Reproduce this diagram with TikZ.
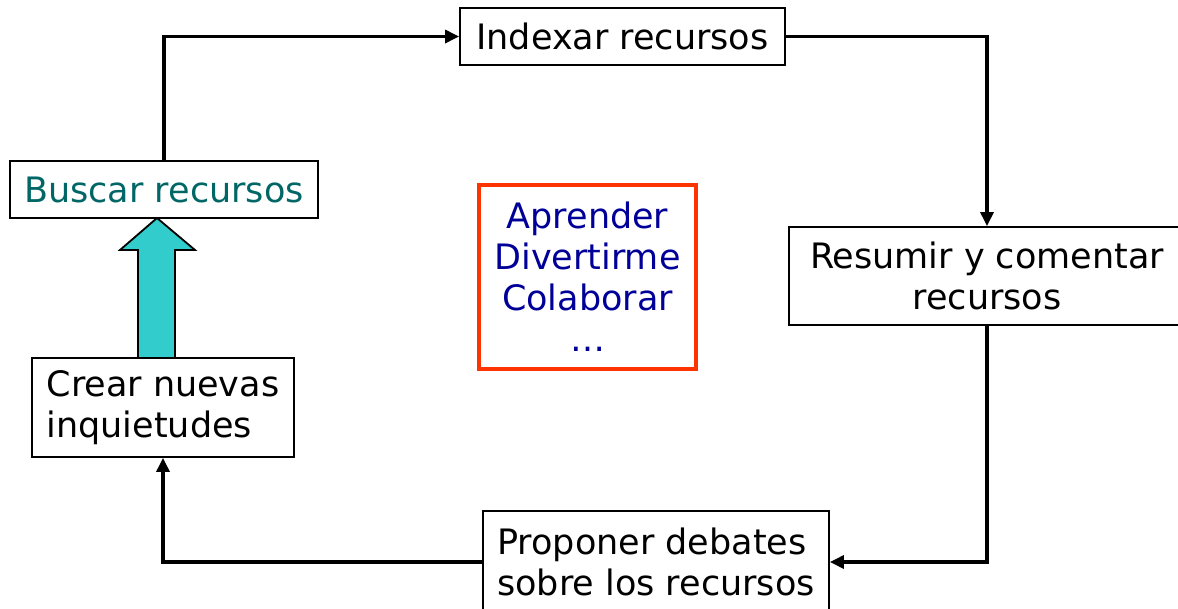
\documentclass[tikz,border=0pt]{standalone}
\usepackage{fontspec}
\setmainfont{DejaVu Sans}
\usetikzlibrary{arrows.meta,positioning}
\definecolor{tealtxt}{RGB}{0,102,102}
\definecolor{navytxt}{RGB}{0,0,153}
\definecolor{redframe}{RGB}{255,51,0}
\definecolor{fatcyan}{RGB}{51,204,204}
\begin{document}
\begin{tikzpicture}[
    x=1pt, y=-1pt,
    every node/.style={font=\fontsize{35}{41}\selectfont},
    box/.style={
      draw,
      line width=1.8pt,
      fill=white,
      inner sep=0pt
    },
    arrow/.style={-{Triangle[length=14pt,width=13pt]}, line width=3.2pt}
  ]
    \useasboundingbox (0,0) rectangle (1178,608);

    % fat arrow
    \draw[fill=fatcyan, line width=1.8pt] (138,358) -- (138,250) -- (120,250) -- (157,218)
      -- (195,250) -- (175,250) -- (175,358) -- cycle;

    \node[box, minimum width=325, minimum height=57] (index) at (622.5,36.5) {Indexar recursos};
    \node[box, minimum width=308, minimum height=57, text=tealtxt] (busca) at (164,189.5) {Buscar recursos};
    \node[box, minimum width=396, minimum height=98, align=center] (resum) at (987,276) {Resumir y comentar\\recursos};
    \node[box, minimum width=262, minimum height=99, align=left] (crear) at (163,407.5) {Crear nuevas\\inquietudes};
    \node[box, minimum width=346, minimum height=102, align=left] (debat) at (656,562) {Proponer debates\\sobre los recursos};
    \node[draw=redframe, line width=3.2pt, minimum width=217, minimum height=184, align=center,
      text=navytxt, inner sep=0pt] (meta) at (587.5,277) {Aprender\\Divertirme\\Colaborar\\\dots};

    \draw[arrow] (busca.north) |- (index.west);
    \draw[arrow] (index.east) -| (resum.north);
    \draw[arrow] (resum.south) |- (debat.east);
    \draw[arrow] (debat.west) -| (crear.south);
  \end{tikzpicture}
\end{document}
